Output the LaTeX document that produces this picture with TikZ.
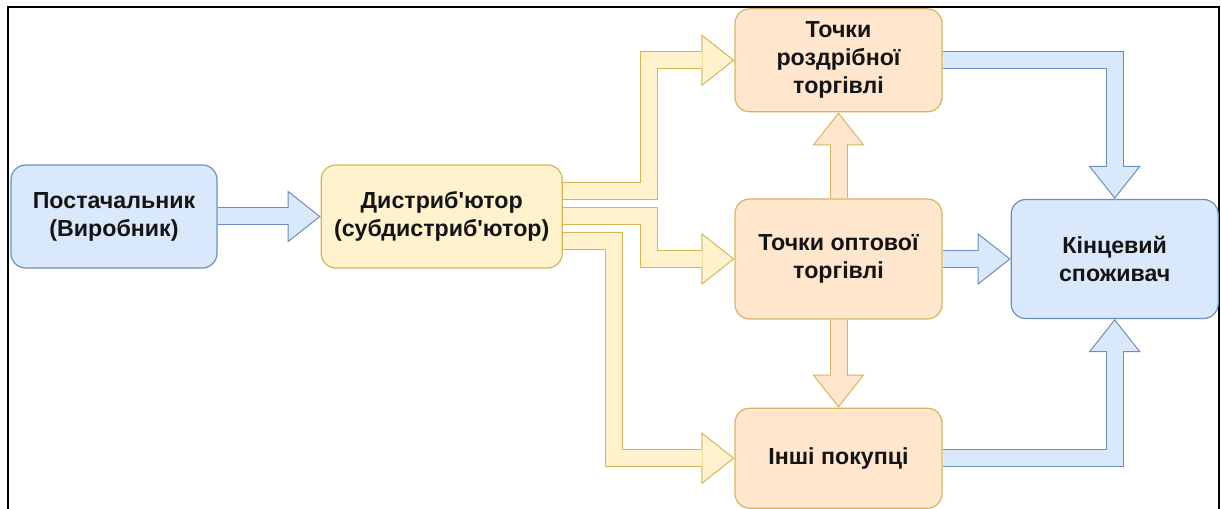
\documentclass[tikz,border=0pt]{standalone}
\usepackage{fontspec}
\setmainfont{Liberation Sans}
\usetikzlibrary{arrows.meta, positioning}

\definecolor{bluefill}{HTML}{DAE8FC}
\definecolor{blueline}{HTML}{6C8EBF}
\definecolor{yellowfill}{HTML}{FFF2CC}
\definecolor{yellowline}{HTML}{D6B656}
\definecolor{orangefill}{HTML}{FFE6CC}
\definecolor{orangeline}{HTML}{D9B45F}

\begin{document}
\begin{tikzpicture}[
    x=0.75pt, y=-0.75pt,
    box/.style={rectangle, rounded corners=11pt, line width=0.9pt, align=center, text=black!92,
        font=\fontsize{17.4pt}{21pt}\selectfont\bfseries},
    bluebox/.style={box, draw=blueline, fill=bluefill},
    yellowbox/.style={box, draw=yellowline, fill=yellowfill},
    orangebox/.style={box, draw=orangeline, fill=orangefill},
    pipe/.style 2 args={line join=miter, line width=12pt, draw=#1, shorten >=24pt,
        preaction={draw=#2, line width=13.5pt, shorten >=0pt,
            -{Triangle[length=24.75pt, width=39pt, line width=0.75pt, fill=#1]}}},
    frameline/.style={draw=black, line width=1.1pt}
]
\useasboundingbox (0,0) rectangle (1221,509);

% Frame
\draw[frameline] (8,509) |- (1219,7) -- (1219,509);

% Nodes
\node[bluebox, minimum width=154.5pt, minimum height=77.25pt]   (supplier)  at (114,216.5)                 {Постачальник\\(Виробник)};
\node[yellowbox, minimum width=180.75pt, minimum height=77.25pt] (dist)     [right=77.25pt of supplier]   {Дистриб\textquotesingle ютор\\(субдистриб\textquotesingle ютор)};
\node[orangebox, minimum width=155.25pt, minimum height=90pt]   (wholesale) at (838.5,259)                 {Точки оптової\\торгівлі};
\node[orangebox, minimum width=155.25pt, minimum height=77.25pt] (retail)   [above=64.5pt of wholesale]   {Точки\\роздрібної\\торгівлі};
\node[orangebox, minimum width=155.25pt, minimum height=75pt]   (other)     [below=66pt of wholesale]     {Інші покупці};
\node[bluebox, minimum width=155.25pt, minimum height=89.25pt]  (consumer)  [right=51pt of wholesale]     {Кінцевий\\споживач};

% Bends of the distributor routes
\coordinate (busA) at (648.5,0);
\coordinate (busB) at (614,0);

% Arrows
\draw[pipe={bluefill}{blueline}] (supplier) -- (dist);
\draw[pipe={yellowfill}{yellowline}] ([yshift=18.75pt]dist.east) -| (busA |- retail.west) -- (retail.west);
\draw[pipe={yellowfill}{yellowline}] (dist.east) -| (busA |- wholesale.west) -- (wholesale.west);
\draw[pipe={yellowfill}{yellowline}] ([yshift=-18.75pt]dist.east) -| (busB |- other.west) -- (other.west);
\draw[pipe={orangefill}{orangeline}] (wholesale) -- (retail);
\draw[pipe={orangefill}{orangeline}] (wholesale) -- (other);
\draw[pipe={bluefill}{blueline}] (retail.east) -| (consumer.north);
\draw[pipe={bluefill}{blueline}] (wholesale) -- (consumer);
\draw[pipe={bluefill}{blueline}] (other.east) -| (consumer.south);

\end{tikzpicture}
\end{document}
